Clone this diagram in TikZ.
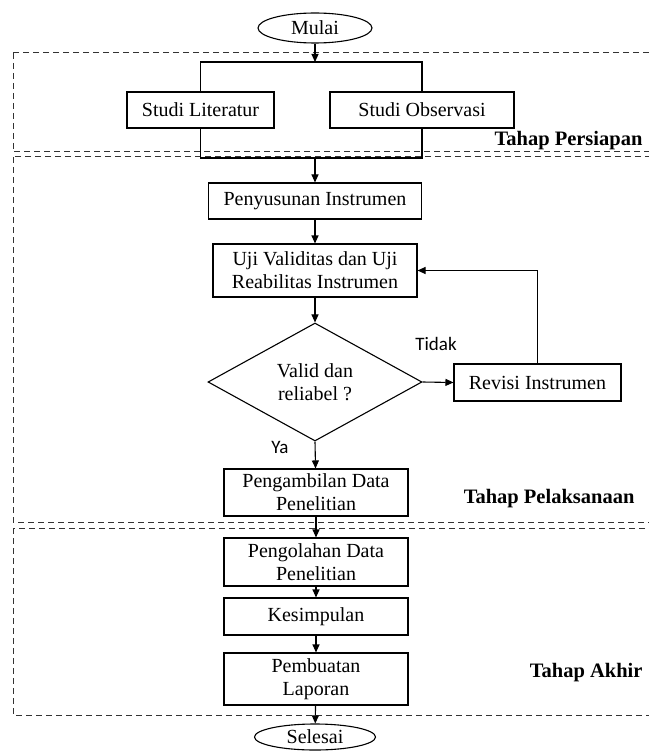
\documentclass[tikz,border=0pt]{standalone}
\usepackage{fontspec}
\setmainfont{Liberation Serif}
\newfontfamily\labelfont{Carlito}
\usetikzlibrary{shapes.geometric,arrows.meta}
\begin{document}
\begin{tikzpicture}[
    x=1pt, y=-1pt,
    font=\fontsize{20}{23}\selectfont,
    box/.style={draw, line width=1.1pt, rectangle, inner sep=0pt, align=center},
    term/.style={draw, line width=1.1pt, ellipse, inner sep=0pt},
    decide/.style={draw, line width=1.1pt, diamond, inner sep=0pt, align=center},
    stage/.style={draw=black!80, line width=1pt, dash pattern=on 6pt off 4pt},
    stagelabel/.style={anchor=east, font=\fontsize{20.5}{23}\selectfont\bfseries},
    answer/.style={font=\fontsize{19}{22}\selectfont\labelfont},
    link/.style={line width=1.1pt},
    arr/.style={link, -{Triangle[length=8pt,width=7pt]}}
]
\useasboundingbox (0,0) rectangle (648,751);

% stages
\draw[stage] (13,53) rectangle (652,152);
\draw[stage] (13,157) rectangle (652,522);
\draw[stage] (13,528) rectangle (652,715);
\node[stagelabel] (persiapan) at (646,141) {Tahap Persiapan};
\node[stagelabel] (pelaksanaan) at (638,499) {Tahap Pelaksanaan};
\node[stagelabel] (akhir) at (646,673) {Tahap Akhir};

% start
\node[term, minimum width=114pt, minimum height=30pt] (mulai) at (315,28) {Mulai};
\coordinate (split) at (315,62);
\coordinate (join) at (315,158);

% preparation
\node[box, minimum width=147pt, minimum height=36pt] (lit) at (200.5,110) {Studi Literatur};
\node[box, minimum width=184pt, minimum height=36pt] (obs) at (422,110) {Studi Observasi};

% execution
\node[box, minimum width=213pt, minimum height=36pt] (susun) at (315,201) {Penyusunan Instrumen};
\node[box, minimum width=204pt, minimum height=53pt] (uji) at (315,270.5) {Uji Validitas dan Uji\\Reabilitas Instrumen};
\node[decide, minimum width=214pt, minimum height=118pt] (valid) at (315,382) {Valid dan\\reliabel ?};
\node[box, minimum width=167pt, minimum height=37pt] (revisi) at (537.5,382.5) {Revisi Instrumen};
\node[box, minimum width=184pt, minimum height=47pt] (ambil) at (316,492.5) {Pengambilan Data\\Penelitian};
\node[answer] (tidak) at (436,344) {Tidak};
\node[answer] (ya) at (280,447) {Ya};

% final
\node[box, minimum width=184pt, minimum height=48pt] (olah) at (316,562) {Pengolahan Data\\Penelitian};
\node[box, minimum width=184pt, minimum height=37pt] (simpul) at (316,616.5) {Kesimpulan};
\node[box, minimum width=184pt, minimum height=52pt] (buat) at (316,679) {Pembuatan\\Laporan};
\node[term, minimum width=121pt, minimum height=26pt] (selesai) at (315,737) {Selesai};

% connectors
\draw[arr] (mulai) -- (split);
\draw[link] (lit.north) |- (split) -| (obs.north);
\draw[link] (lit.south) |- (join) -| (obs.south);
\draw[arr] (join) -- (susun);
\draw[arr] (susun) -- (uji);
\draw[arr] (uji) -- (valid);
\draw[arr] (valid.east) -- (revisi.west);
\draw[arr] (revisi.north) |- (uji.east);
\draw[arr] (valid.south) -- (ambil);
\draw[arr] (ambil) -- (olah);
\draw[arr] (olah) -- (simpul);
\draw[arr] (simpul) -- (buat);
\draw[arr] (buat) -- (selesai);
\end{tikzpicture}
\end{document}
